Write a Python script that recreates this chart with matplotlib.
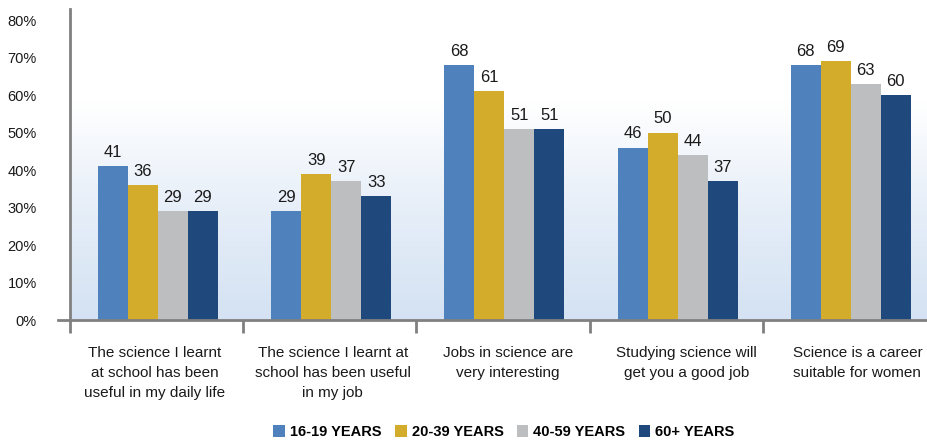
import matplotlib
matplotlib.use("Agg")
import matplotlib.pyplot as plt
import numpy as np
from matplotlib.colors import LinearSegmentedColormap
from matplotlib.patches import Patch
from matplotlib import font_manager

names = {f.name for f in font_manager.fontManager.ttflist}
FONT = ['Liberation Sans Narrow', 'Liberation Sans', 'DejaVu Sans'] if 'Liberation Sans Narrow' in names else ['Liberation Sans', 'DejaVu Sans']
plt.rcParams['font.family'] = FONT

categories = [
    "The science I learnt\nat school has been\nuseful in my daily life",
    "The science I learnt at\nschool has been useful\nin my job",
    "Jobs in science are\nvery interesting",
    "Studying science will\nget you a good job",
    "Science is a career\nsuitable for women",
]
series_names = ["16-19 YEARS", "20-39 YEARS", "40-59 YEARS", "60+ YEARS"]
v_16_19 = [41, 29, 68, 46, 68]
v_20_39 = [36, 39, 61, 50, 69]
v_40_59 = [29, 37, 51, 44, 63]
v_60p = [29, 33, 51, 37, 60]
series = [v_16_19, v_20_39, v_40_59, v_60p]
colors = ["#4F81BD", "#D4AC2B", "#BDBEC0", "#1F497D"]
yticks = [0, 10, 20, 30, 40, 50, 60, 70, 80]

W, H = 927, 441
fig = plt.figure(figsize=(W / 100, H / 100), dpi=100)
left_px, right_px, top_px, bot_px = 70, 936, 9, 320
ax = fig.add_axes([left_px / W, 1 - bot_px / H, (right_px - left_px) / W, (bot_px - top_px) / H])

ncat = len(categories)
ax.set_xlim(0, ncat)
ax.set_ylim(0, 83)

# gradient background
grad_top = 58
cmap = LinearSegmentedColormap.from_list("bg", ["#D4E2F3", "#E6EEF8", "#FFFFFF"])
g = np.linspace(0, 1, 256).reshape(-1, 1)
ax.imshow(g, extent=[0, ncat, 0, grad_top], origin="lower", aspect="auto", cmap=cmap, zorder=0)
ax.set_facecolor("white")

bw = 0.173
x = np.arange(ncat) + 0.5
for i, (vals, c) in enumerate(zip(series, colors)):
    pos = x + (i - 1.5) * bw + 0.008
    ax.bar(pos, vals, width=bw, color=c, zorder=2)
    for p, v in zip(pos, vals):
        ax.annotate(str(v), (p, v), xytext=(0, 4.5), textcoords="offset points",
                    ha="center", va="bottom", fontsize=12, color="#1a1a1a")

# axes styling
for s in ["top", "right", "bottom"]:
    ax.spines[s].set_visible(False)
ax.spines["left"].set_color("#808080")
ax.spines["left"].set_linewidth(2)
ax.axhline(0, xmin=-12 / (right_px - left_px), xmax=1, color="#808080", lw=2, clip_on=False, zorder=3)

ax.set_yticks(yticks)
ax.set_yticklabels([f"{t}%" for t in yticks], fontsize=10.5, color="#1a1a1a")
ax.tick_params(axis="y", length=0, pad=24)

ax.set_xticks(np.arange(ncat + 1))
ax.set_xticklabels([])
ax.tick_params(axis="x", direction="out", length=9, width=2, color="#808080")

# category labels
offsets_px = [-2, 3, 5, 10, 8]
for i, lab in enumerate(categories):
    off = offsets_px[i] / 100 * 72
    ax.annotate(lab, (x[i], 0), xytext=(off, -19), textcoords="offset points",
                ha="center", va="top", fontsize=11, color="#1a1a1a", linespacing=1.55,
                annotation_clip=False)

handles = [Patch(facecolor=c, edgecolor="none") for c in colors]
fig.legend(handles, series_names, loc="center", bbox_to_anchor=(504 / W, 1 - 432 / H),
           ncol=4, frameon=False, handlelength=0.8, handleheight=0.8, handletextpad=0.35,
           columnspacing=0.9, prop={"weight": "bold", "size": 10.5, "family": FONT})

fig.savefig("out.png", dpi=100)
